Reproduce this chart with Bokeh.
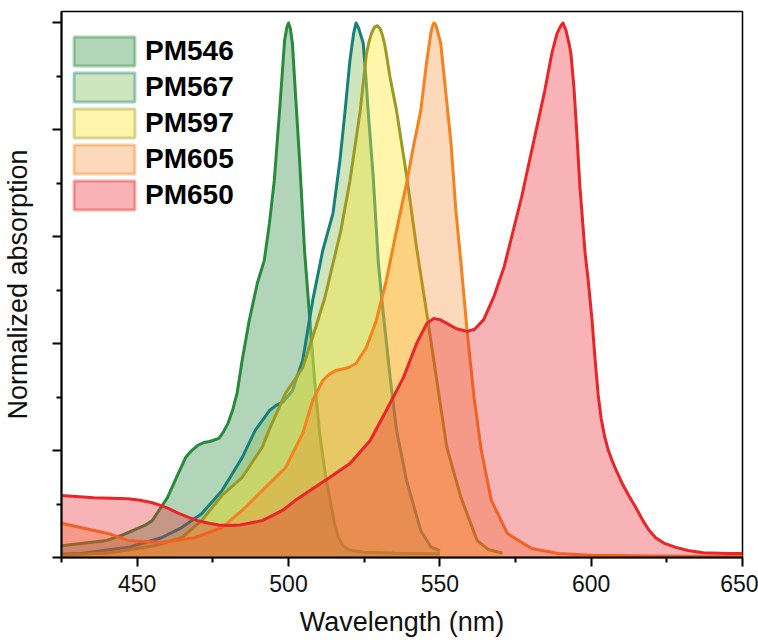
from bokeh.plotting import figure
from bokeh.models import (Range1d, FixedTicker, Legend, LegendItem, ColumnDataSource,
                          CustomLabelingPolicy)
from bokeh.embed import file_html
from bokeh.resources import INLINE

# ---------------- data ----------------
names = ["PM546", "PM567", "PM597", "PM605", "PM650"]

pm546_wl = [425, 440, 445, 450, 452.5, 455, 458, 460, 463, 466, 468, 470, 472, 474, 477,
            478.5, 480, 481.5, 483, 484.7, 487, 489.7, 492, 493.7, 495.3, 497.3, 498.7,
            499.5, 500, 500.6, 501.3, 502.3, 503.7, 505.3, 507, 508.7, 510.3, 512.3, 514,
            515, 516.3, 518, 520, 525, 535, 550]
pm546_abs = [0.022, 0.032, 0.042, 0.054, 0.06, 0.069, 0.095, 0.112, 0.15, 0.187, 0.2, 0.21,
             0.215, 0.217, 0.223, 0.235, 0.251, 0.275, 0.307, 0.369, 0.443, 0.513, 0.556,
             0.625, 0.705, 0.855, 0.967, 0.993, 1.0, 0.99, 0.962, 0.868, 0.74, 0.574, 0.449,
             0.326, 0.232, 0.15, 0.1, 0.07, 0.04, 0.022, 0.014, 0.01, 0.008, 0.007]

pm567_wl = [425, 431.3, 447, 458, 464.7, 471.3, 478, 484.7, 489, 493.7, 496, 498, 501.3,
            504.7, 508, 511.3, 514.7, 517, 518.7, 520.3, 521.5, 522.3, 523.2, 524.7, 525.5,
            526.3, 528, 529.7, 531.3, 533.7, 535.7, 539, 543.7, 547, 550]
pm567_abs = [0.006, 0.0075, 0.019, 0.037, 0.056, 0.082, 0.125, 0.187, 0.238, 0.275, 0.285,
             0.29, 0.312, 0.369, 0.481, 0.574, 0.644, 0.743, 0.836, 0.93, 0.98, 1.0, 0.99,
             0.962, 0.905, 0.836, 0.711, 0.55, 0.457, 0.331, 0.238, 0.144, 0.05, 0.02, 0.013]

pm597_wl = [425, 441.3, 455.7, 464.7, 471.3, 478, 484.7, 491.3, 493.7, 499, 504.7, 508.7,
            512, 514.7, 517.3, 520.3, 523.7, 525.7, 526.6, 527.5, 528.4, 529.3, 530.2, 531,
            531.7, 532.3, 533.5, 535.7, 539, 542.3, 545.7, 549, 552.3, 557, 562.3, 566,
            570.7]
pm597_abs = [0.004, 0.009, 0.022, 0.037, 0.069, 0.116, 0.15, 0.206, 0.24, 0.307, 0.355,
             0.425, 0.486, 0.55, 0.612, 0.705, 0.836, 0.94, 0.965, 0.982, 0.992, 0.995,
             0.99, 0.978, 0.962, 0.943, 0.9, 0.836, 0.715, 0.58, 0.456, 0.331, 0.206, 0.112,
             0.032, 0.015, 0.008]

pm605_wl = [425, 431.3, 440.3, 447, 458, 469, 478, 484.7, 491.3, 499, 504.7, 508, 511.3,
            513.5, 515.7, 519.7, 522.3, 525.7, 529, 532.3, 535.7, 539, 541.3, 543.7, 545.7,
            546.5, 547, 547.5, 548, 548.5, 549, 550.3, 552, 553.7, 555.3, 557, 559, 561.3,
            563.7, 567, 572.3, 580.3, 589, 600, 620, 650]
pm605_abs = [0.064, 0.056, 0.045, 0.032, 0.028, 0.037, 0.056, 0.088, 0.125, 0.168, 0.232,
             0.294, 0.331, 0.343, 0.35, 0.355, 0.363, 0.393, 0.443, 0.518, 0.612, 0.70,
             0.77, 0.836, 0.93, 0.96, 0.98, 0.993, 1.0, 0.998, 0.99, 0.962, 0.868, 0.775,
             0.649, 0.55, 0.425, 0.299, 0.2, 0.107, 0.045, 0.017, 0.0075, 0.004, 0.003,
             0.002]

pm650_wl = [425, 435.7, 447, 451, 454.7, 457.5, 460.3, 463.5, 467, 470, 473.7, 477, 480.3,
            484, 487, 491.3, 494.5, 498, 502.3, 507, 513.7, 520.3, 527, 532.3, 538, 542.3,
            545.7, 548, 550, 552.3, 555.5, 559, 561.5, 564.5, 568, 571.3, 577, 581.3,
            584.7, 587, 588.7, 590, 590.7, 591.7, 592.7, 593.3, 594.3, 595, 596.3, 598, 599,
            600.3, 601.3, 602.3, 603.3, 604.5, 605.7, 607, 608.5, 610.3, 612.5, 614.7, 617,
            619, 621.3, 624, 628, 632, 637, 645, 650]
pm650_abs = [0.116, 0.112, 0.11, 0.107, 0.103, 0.098, 0.092, 0.083, 0.075, 0.069, 0.064,
             0.061, 0.06, 0.061, 0.064, 0.069, 0.078, 0.088, 0.107, 0.125, 0.15, 0.176,
             0.219, 0.275, 0.337, 0.4, 0.438, 0.447, 0.445, 0.438, 0.428, 0.423, 0.427,
             0.445, 0.49, 0.545, 0.674, 0.786, 0.874, 0.943, 0.98, 0.995, 1.0, 0.986, 0.961,
             0.943, 0.88, 0.818, 0.692, 0.569, 0.52, 0.443, 0.37, 0.305, 0.26, 0.225, 0.2,
             0.18, 0.16, 0.138, 0.115, 0.094, 0.07, 0.052, 0.037, 0.027, 0.019, 0.013,
             0.009, 0.0075, 0.0075]

x_major = [450, 500, 550, 600, 650]
x_minor = [425, 475, 525, 575, 625]
y_major = [0.0, 0.2, 0.4, 0.6, 0.8, 1.0]
y_minor = [0.1, 0.3, 0.5, 0.7, 0.9]

series_wl = [pm546_wl, pm567_wl, pm597_wl, pm605_wl, pm650_wl]
series_abs = [pm546_abs, pm567_abs, pm597_abs, pm605_abs, pm650_abs]

# ---------------- styles ----------------
line_colors = ["#2a8a3c", "#17807d", "#9c9a26", "#f5821f", "#e8262a"]
fill_colors = ["#2a8a3c", "#8cc063", "#ffe62e", "#f5821f", "#e8262a"]
fill_alphas = [0.36, 0.42, 0.4, 0.3, 0.35]

FONT = "Liberation Sans"

p = figure(width=758, height=642, output_backend="svg", toolbar_location=None,
           x_range=Range1d(425, 650), y_range=Range1d(0, 1.0215))
p.min_border_left = 61
p.min_border_right = 16
p.min_border_top = 11
p.min_border_bottom = 85
p.xgrid.visible = False
p.ygrid.visible = False
p.outline_line_color = "black"
p.outline_line_width = 1.5
p.outline_line_alpha = 1.0

for wl, ab, lc, fc, fa in zip(series_wl, series_abs, line_colors, fill_colors, fill_alphas):
    p.varea(x=wl, y1=[0] * len(wl), y2=ab, fill_color=fc, fill_alpha=fa)
    p.line(x=wl, y=ab, line_color=lc, line_width=3, line_join="round")

# axes
p.xaxis.ticker = FixedTicker(ticks=x_major, minor_ticks=x_minor)
p.yaxis.ticker = FixedTicker(ticks=y_major, minor_ticks=y_minor)
for ax in (p.xaxis[0], p.yaxis[0]):
    ax.axis_line_width = 2
    ax.axis_line_color = "black"
    ax.major_tick_line_width = 2
    ax.minor_tick_line_width = 2
    ax.major_tick_line_color = "black"
    ax.minor_tick_line_color = "black"
    ax.major_tick_in = 0
    ax.minor_tick_in = 0
    ax.major_tick_out = 9
    ax.minor_tick_out = 5
    ax.axis_label_text_font = FONT
    ax.axis_label_text_font_style = "normal"
    ax.axis_label_text_font_size = "27px"
    ax.axis_label_text_color = "#111111"
    ax.major_label_text_font = FONT
    ax.major_label_text_font_size = "23px"
    ax.major_label_text_color = "#111111"

p.xaxis.axis_label = "Wavelength (nm)"
p.xaxis.major_label_standoff = 8
p.xaxis.axis_label_standoff = 12
p.yaxis.axis_label = "Normalized absorption"
# the reference shows y ticks without any tick labels
p.yaxis.major_label_policy = CustomLabelingPolicy(code="return new Set()")
p.yaxis.major_label_text_font_size = "1px"
p.yaxis.major_label_standoff = 0
p.yaxis.axis_label_standoff = 15

# legend with boxed swatches (proxy renderers with no visible geometry)
nan = float("nan")
items = []
for name, lc, fc, fa in zip(names, line_colors, fill_colors, fill_alphas):
    src = ColumnDataSource(dict(left=[nan], right=[nan], top=[nan], bottom=[nan]))
    r = p.quad(left="left", right="right", top="top", bottom="bottom", source=src,
               fill_color=fc, fill_alpha=fa, line_color=lc, line_alpha=0.4, line_width=3)
    items.append(LegendItem(label=name, renderers=[r]))

legend = Legend(items=items, location=(5, 344))
legend.glyph_width = 76
legend.glyph_height = 36
legend.label_height = 36
legend.spacing = 0
legend.padding = 0
legend.margin = 0
legend.label_standoff = 3
legend.label_text_font = FONT
legend.label_text_font_style = "bold"
legend.label_text_font_size = "28px"
legend.label_text_color = "#000000"
legend.border_line_alpha = 0
legend.background_fill_alpha = 0
p.add_layout(legend)

open("out.html", "w").write(file_html(p, INLINE))
